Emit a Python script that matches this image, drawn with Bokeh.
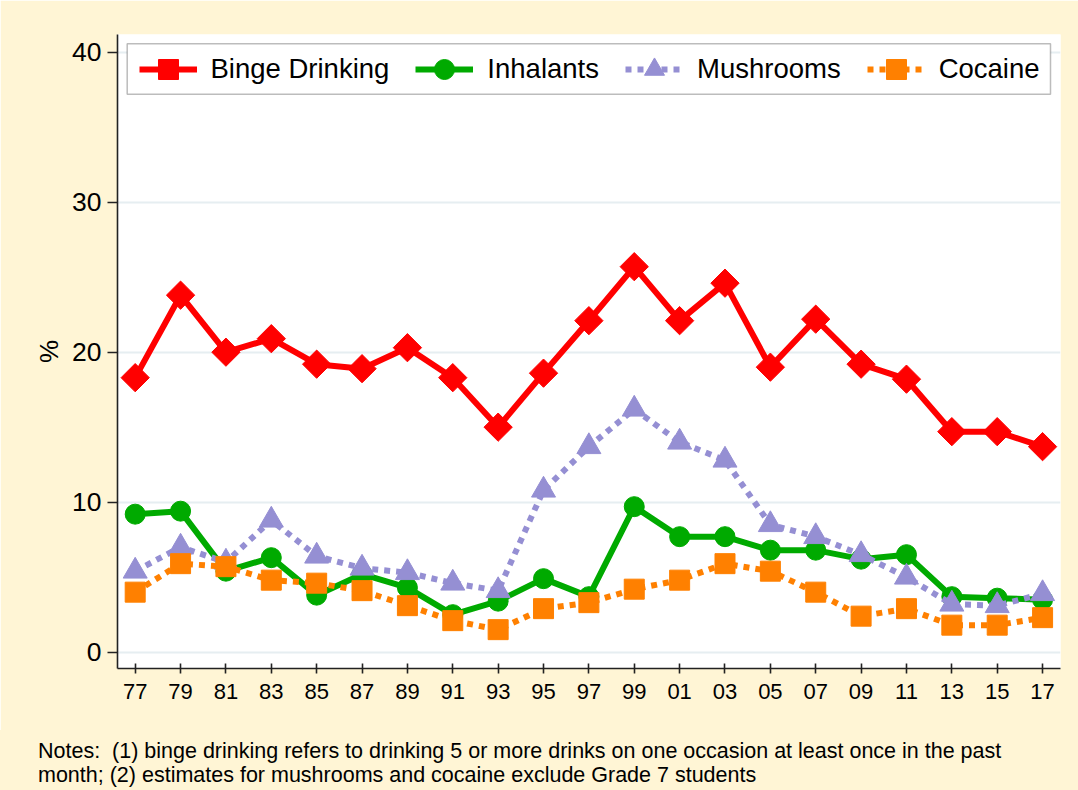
import numpy as np
from bokeh.plotting import figure
from bokeh.layouts import column
from bokeh.models import BoxAnnotation, Div, FixedTicker, Legend, LegendItem, Range1d
from bokeh.embed import file_html
from bokeh.resources import INLINE

years = list(range(1977, 2018, 2))
tick_labels = ["77", "79", "81", "83", "85", "87", "89", "91", "93", "95", "97",
               "99", "01", "03", "05", "07", "09", "11", "13", "15", "17"]
binge = [18.3, 23.8, 20.0, 20.9, 19.2, 18.9, 20.3, 18.3, 15.0, 18.6, 22.1,
         25.7, 22.1, 24.6, 19.0, 22.2, 19.2, 18.2, 14.7, 14.7, 13.7]
inhalants = [9.2, 9.4, 5.4, 6.3, 3.8, 5.2, 4.3, 2.5, 3.4, 4.9, 3.7,
             9.7, 7.7, 7.7, 6.8, 6.8, 6.2, 6.5, 3.7, 3.6, 3.5]
mushrooms = [5.4, 7.0, 6.0, 8.8, 6.4, 5.6, 5.3, 4.6, 4.1, 10.8, 13.7,
             16.2, 14.0, 12.8, 8.5, 7.7, 6.5, 5.0, 3.2, 3.1, 3.9]
cocaine = [4.0, 5.9, 5.7, 4.8, 4.6, 4.1, 3.1, 2.1, 1.5, 2.9, 3.3,
           4.2, 4.8, 5.9, 5.4, 4.0, 2.4, 2.9, 1.8, 1.8, 2.3]
y_ticks = [0, 10, 20, 30, 40]
series_names = ["Binge Drinking", "Inhalants", "Mushrooms", "Cocaine"]
notes1 = "Notes:  (1) binge drinking refers to drinking 5 or more drinks on one occasion at least once in the past"
notes2 = "month; (2) estimates for mushrooms and cocaine exclude Grade 7 students"

FONT = "Liberation Sans"
CREAM = "#FFF5D5"
W = 1078
H_FIG = 730
H_NOTES = 60

p = figure(width=W, height=H_FIG, output_backend="svg", toolbar_location=None,
           x_range=Range1d(1976.22, 2017.79), y_range=Range1d(-1.09, 41.18),
           min_border_left=117, min_border_right=18, min_border_top=34,
           min_border_bottom=62)
p.background_fill_color = "white"
p.border_fill_color = CREAM
p.outline_line_color = None

# axes
p.xaxis.ticker = FixedTicker(ticks=years)
p.xaxis.major_label_overrides = {y: l for y, l in zip(years, tick_labels)}
p.yaxis.ticker = FixedTicker(ticks=y_ticks)
p.yaxis.axis_label = "%"
for ax in (p.xaxis[0], p.yaxis[0]):
    ax.axis_line_color = "#222222"
    ax.axis_line_width = 1.6
    ax.major_tick_line_color = "#222222"
    ax.major_tick_line_width = 1.6
    ax.minor_tick_line_color = None
    ax.major_label_text_font = FONT
    ax.major_label_text_color = "black"
    ax.axis_label_text_font = FONT
    ax.axis_label_text_font_style = "normal"
    ax.axis_label_text_color = "black"
p.xaxis.major_label_text_font_size = "22px"
p.xaxis.major_tick_in = 5
p.xaxis.major_tick_out = 5
p.xaxis.major_label_standoff = 10
p.yaxis.major_label_text_font_size = "26.5px"
p.yaxis.axis_label_text_font_size = "26px"
p.yaxis.major_tick_in = 0
p.yaxis.major_tick_out = 10
p.yaxis.major_label_standoff = 6
p.yaxis.axis_label_standoff = 5
p.yaxis.major_label_orientation = "horizontal"

p.xgrid.visible = False
p.ygrid.ticker = FixedTicker(ticks=y_ticks)
p.ygrid.grid_line_color = "#E6EEF1"
p.ygrid.grid_line_width = 2

# legend frame box (screen units relative to the plot frame)
p.add_layout(BoxAnnotation(left=9.7, right=933, bottom=574.3, top=624.7,
                           left_units="screen", right_units="screen",
                           bottom_units="screen", top_units="screen",
                           fill_color="white", fill_alpha=1,
                           line_color="#222222", line_width=1.5))

# series
styles = [
    (binge, "#FF0000", "solid", "square", 20, np.pi / 4),
    (inhalants, "#00AA00", "solid", "circle", 20, 0),
    (mushrooms, "#958FD3", "6 6", "triangle", 24, 0),
    (cocaine, "#FF8000", "6 6", "square", 20, 0),
]
items = []
for name, (vals, color, dash, marker, size, ang) in zip(series_names, styles):
    lr = p.line(years, vals, line_color=color, line_width=6, line_dash=dash,
                line_cap="butt", line_join="round")
    sr = p.scatter(years, vals, marker=marker, size=size, angle=ang,
                   fill_color=color, line_color=color, line_width=1)
    items.append(LegendItem(label=name, renderers=[lr, sr]))

legend = Legend(items=items, orientation="horizontal", location=(21.5, 574))
legend.margin = 0
legend.padding = 0
legend.spacing = 26
legend.glyph_width = 58
legend.glyph_height = 50
legend.label_standoff = 14
legend.label_text_font = FONT
legend.label_text_font_size = "27.5px"
legend.label_text_color = "black"
legend.border_line_color = None
legend.background_fill_alpha = 0.0
p.add_layout(legend, "center")

notes_html = (
    '<div style="padding:8.5px 0 0 38px; white-space:pre; font-family:\'Liberation Sans\';'
    ' font-size:21.5px; line-height:24px; color:black;">'
    + notes1 + "<br>" + notes2 + "</div>"
)
notes = Div(text=notes_html, width=W, height=H_NOTES,
            styles={"background-color": CREAM, "margin": "0", "padding": "0"},
            stylesheets=[":host { background-color: #FFF5D5; margin: 0; padding: 0; }"])

layout = column(p, notes, spacing=0)
open("out.html", "w").write(file_html(layout, INLINE))
